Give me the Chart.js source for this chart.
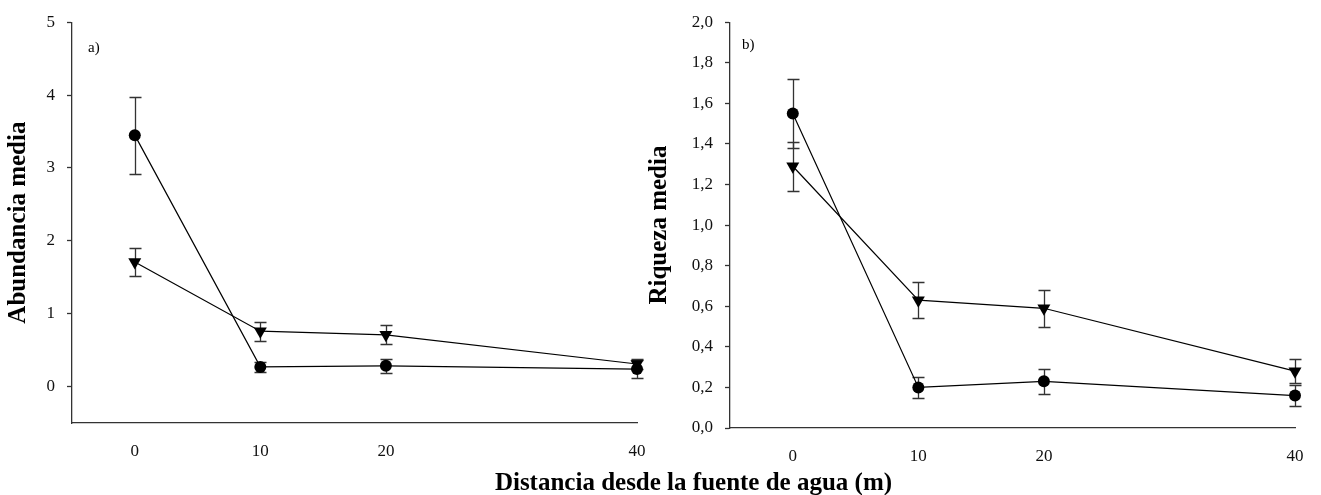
<!DOCTYPE html>
<html>
<head>
<meta charset="utf-8">
<script src="https://cdn.jsdelivr.net/npm/chart.js@4/dist/chart.umd.min.js"></script>
<style>
  html, body { margin: 0; padding: 0; background: #fff; }
  #wrap { position: relative; width: 1321px; height: 495px; overflow: hidden; }
  #cA { position: absolute; left: 0; top: 0; }
  #cB { position: absolute; left: 640px; top: 0; }
  #xtitle { position: absolute; left: 0; width: 1387px; top: 469px; text-align: center;
    font: bold 25px "Liberation Serif", "Times New Roman", serif; line-height: 25px; color: #000; }
</style>
</head>
<body>
<div id="wrap">
  <canvas id="cA" width="660" height="495"></canvas>
  <canvas id="cB" width="681" height="495"></canvas>
  <div id="xtitle">Distancia desde la fuente de agua (m)</div>
</div>
<script>
// ---- data ----
const distances = [0, 10, 20, 40];
const xTicks = [0, 10, 20, 40];

// Panel a) Abundancia media
const abundCircle = [3.45, 0.27, 0.285, 0.24];
const abundCircleErr = [0.53, 0.07, 0.095, 0.12];
const abundTriangle = [1.71, 0.76, 0.71, 0.31];
const abundTriangleErr = [0.19, 0.13, 0.13, 0.065];
const yTicksA = [0, 1, 2, 3, 4, 5];

// Panel b) Riqueza media
const riqCircle = [1.55, 0.20, 0.23, 0.16];
const riqCircleErr = [0.17, 0.05, 0.06, 0.05];
const riqTriangle = [1.29, 0.63, 0.59, 0.28];
const riqTriangleErr = [0.12, 0.09, 0.09, 0.06];
const yTicksB = [0, 0.2, 0.4, 0.6, 0.8, 1.0, 1.2, 1.4, 1.6, 1.8, 2.0];

const SERIF = '"Liberation Serif", "Times New Roman", serif';

const errorBarPlugin = {
  id: 'errorBars',
  beforeDatasetsDraw(chart) {
    const ctx = chart.ctx;
    const y = chart.scales.y;
    ctx.save();
    ctx.strokeStyle = '#333';
    ctx.lineWidth = 1.3;
    chart.data.datasets.forEach((ds, i) => {
      const meta = chart.getDatasetMeta(i);
      meta.data.forEach((pt, j) => {
        const v = ds.data[j].y, e = ds.errors[j];
        const x = Math.round(pt.x) + 0.5;
        const yt = Math.round(y.getPixelForValue(v + e)) + 0.5;
        const yb = Math.round(y.getPixelForValue(v - e)) + 0.5;
        ctx.beginPath();
        ctx.moveTo(x, yt); ctx.lineTo(x, yb);
        ctx.moveTo(x - 6, yt); ctx.lineTo(x + 6, yt);
        ctx.moveTo(x - 6, yb); ctx.lineTo(x + 6, yb);
        ctx.stroke();
      });
    });
    ctx.restore();
  }
};

const panelLabelPlugin = {
  id: 'panelLabel',
  afterDraw(chart, args, opts) {
    const ctx = chart.ctx;
    ctx.save();
    ctx.font = '15px ' + SERIF;
    ctx.fillStyle = '#000';
    ctx.textBaseline = 'alphabetic';
    ctx.textAlign = 'left';
    ctx.fillText(opts.text, chart.chartArea.left + opts.dx, chart.chartArea.top + opts.dy);
    ctx.restore();
  }
};

function makeChart(id, cfg) {
  const pts = arr => distances.map((d, i) => ({ x: d, y: arr[i] }));
  return new Chart(document.getElementById(id), {
    type: 'line',
    data: {
      datasets: [
        {
          data: pts(cfg.circle), errors: cfg.circleErr,
          borderColor: '#000', borderWidth: 1.2, backgroundColor: '#000',
          pointStyle: 'circle', pointRadius: 6, pointBorderWidth: 0, pointBackgroundColor: '#000',
          tension: 0, clip: false
        },
        {
          data: pts(cfg.tri), errors: cfg.triErr,
          borderColor: '#000', borderWidth: 1.2, backgroundColor: '#000',
          pointStyle: 'triangle', pointRotation: 180, pointRadius: 7.5, pointBorderWidth: 0, pointBackgroundColor: '#000',
          tension: 0, clip: false
        }
      ]
    },
    options: {
      responsive: false,
      animation: false,
      events: [],
      layout: { padding: { top: cfg.padTop, right: cfg.padRight, left: 0, bottom: 0 } },
      plugins: {
        legend: { display: false },
        tooltip: { enabled: false },
        panelLabel: { text: cfg.label, dx: cfg.labelDx, dy: cfg.labelDy }
      },
      scales: {
        x: {
          type: 'linear', min: -5, max: 40,
          afterBuildTicks: s => { s.ticks = xTicks.map(v => ({ value: v })); },
          afterFit: s => { s.height = cfg.xHeight; },
          grid: { display: false, drawOnChartArea: false, drawTicks: true, tickLength: 5, tickColor: '#333', tickWidth: 1.3 },
          border: { display: true, color: '#333', width: 1.3 },
          ticks: { font: { family: SERIF, size: 17 }, color: '#111', padding: 13, maxRotation: 0 }
        },
        y: {
          type: 'linear', min: cfg.yMin, max: cfg.yMax,
          afterBuildTicks: s => { s.ticks = cfg.yTicks.map(v => ({ value: v })); },
          afterFit: s => { s.width = cfg.yWidth; },
          grid: { display: true, drawOnChartArea: false, drawTicks: true, tickLength: 5, tickColor: '#333', tickWidth: 1.3 },
          border: { display: true, color: '#333', width: 1.3 },
          ticks: { font: { family: SERIF, size: 17 }, color: '#111', padding: 12, callback: cfg.fmt },
          title: { display: true, text: cfg.yTitle, font: { family: SERIF, size: 25, weight: 'bold' }, color: '#000', padding: { top: cfg.titlePad, bottom: 0 } }
        }
      }
    },
    plugins: [errorBarPlugin, panelLabelPlugin]
  });
}

makeChart('cA', {
  circle: abundCircle, circleErr: abundCircleErr, tri: abundTriangle, triErr: abundTriangleErr,
  yMin: -0.5, yMax: 5, yTicks: yTicksA, fmt: v => String(v),
  yTitle: 'Abundancia media', label: 'a)', labelDx: 16, labelDy: 30,
  padTop: 17, padRight: 23, yWidth: 72, xHeight: 72, titlePad: 4
});

makeChart('cB', {
  circle: riqCircle, circleErr: riqCircleErr, tri: riqTriangle, triErr: riqTriangleErr,
  yMin: 0, yMax: 2, yTicks: yTicksB, fmt: v => v.toFixed(1).replace('.', ','),
  yTitle: 'Riqueza media', label: 'b)', labelDx: 12, labelDy: 27,
  padTop: 22, padRight: 26, yWidth: 90, xHeight: 67, titlePad: 5
});
</script>
</body>
</html>
